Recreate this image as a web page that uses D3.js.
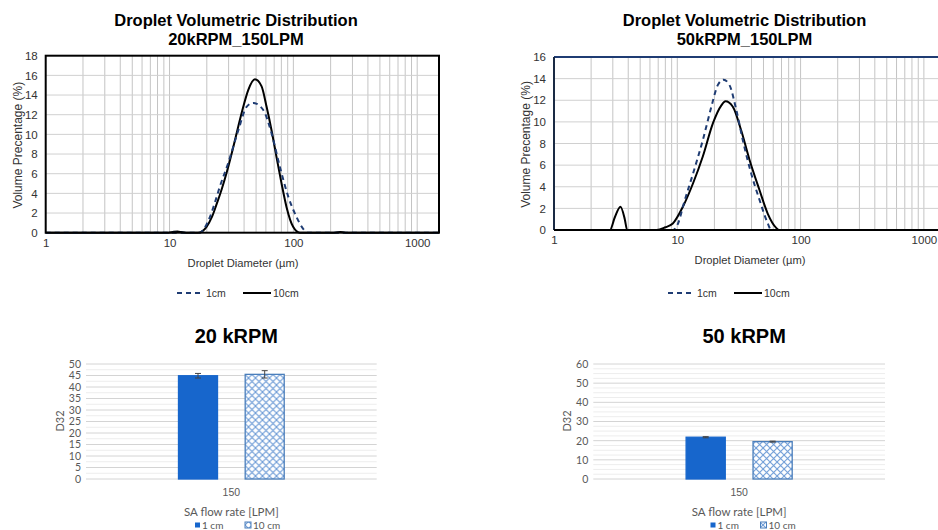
<!DOCTYPE html>
<html>
<head>
<meta charset="utf-8">
<script src="https://cdn.jsdelivr.net/npm/d3@7"></script>
<style>
  body { margin: 0; background: #fff; }
  text { font-family: "Liberation Sans", Arial, sans-serif; }
  .bar-txt { font-family: Lato, "Open Sans", sans-serif; fill: #595959; }
</style>
</head>
<body>
<svg id="chart" width="938" height="530"></svg>
<script>
// ---- data ----
const xTicks = [1, 10, 100, 1000];

// 20kRPM_150LPM : volume % against droplet diameter (µm)
const diam20k1cm = [1, 17.6, 19, 21.2, 23.3, 25.5, 29.8, 35.9, 41.9, 47.5, 57, 66.7, 77.8, 90.8, 106, 120, 132, 1500];
const vol20k1cm  = [0, 0, 0.4, 1.6, 3.1, 4.7, 7.1, 10.4, 12.8, 13.2, 12.5, 10.1, 6.7, 3.7, 1.6, 0.4, 0, 0];
const diam20k10cm = [1, 9.8, 10.8, 11.6, 12.5, 13.5, 17, 19.9, 22, 24, 26.5, 28.9, 32.7, 35.9, 39.4, 43.2, 48.9, 55.3, 60.8, 66.7, 73.1, 80.3, 88.1, 99.6, 112.8, 215, 240, 265, 1500];
const vol20k10cm  = [0, 0, 0.09, 0.12, 0.06, 0, 0, 0.6, 1.6, 2.9, 4.5, 6.1, 8.7, 10.8, 12.8, 14.5, 15.6, 14.9, 12.8, 10.4, 7.7, 5.0, 2.6, 0.6, 0, 0, 0.07, 0, 0];

// 50kRPM_150LPM
const diam50k1cm = [1, 9.2, 10.3, 11.1, 13.4, 16.1, 18.9, 21.3, 23.7, 26.5, 30.1, 34, 39.8, 46.4, 54.2, 57.7, 1500];
const vol50k1cm  = [0, 0, 0.8, 2.15, 5.2, 8.3, 11.4, 13.4, 13.9, 13.4, 11.1, 8.3, 5.2, 2.8, 0.6, 0, 0];
const diam50k10cm = [1, 2.84, 3.12, 3.46, 3.75, 3.92, 6.8, 8.0, 9.2, 11.1, 13.4, 16.1, 19.5, 22.7, 24.6, 28.2, 33, 38.5, 46.4, 54.2, 63.4, 66.9, 1500];
const vol50k10cm  = [0, 0, 1.2, 2.15, 1.0, 0, 0, 0.25, 0.6, 2.15, 4.3, 6.8, 9.9, 11.5, 11.9, 11.4, 9.2, 6.5, 3.7, 1.5, 0.2, 0, 0];

// D32 bar charts
const flowRates = ["150"];
const barSeries = ["1 cm", "10 cm"];
const d32At20k = [44.9, 45.5];
const err20k = [1.0, 1.6];
const d32At50k = [21.8, 19.5];
const err50k = [0.3, 0.25];

// ---- drawing ----
const svg = d3.select("#chart");
svg.append("rect").attr("width", 938).attr("height", 530).attr("fill", "#fff");

const defs = svg.append("defs");
const hatch = defs.append("pattern")
  .attr("id", "hatch")
  .attr("patternUnits", "userSpaceOnUse")
  .attr("width", 7).attr("height", 7);
hatch.append("rect").attr("width", 7).attr("height", 7).attr("fill", "#fff");
hatch.append("path")
  .attr("d", "M0,0 L7,7 M7,0 L0,7")
  .attr("stroke", "#6d9bd6").attr("stroke-width", 1.1);

const BLUE = "#1766cc";
const NAVY = "#1f3c73";

function zip(xs, ys) {
  return xs.map((d, i) => [d, ys[i]]);
}

function drawDistribution(o) {
  const x = d3.scaleLog().domain([1, 1500]).range([o.left, o.right]);
  const y = d3.scaleLinear().domain([0, o.yMax]).range([o.bottom, o.top]);
  const g = svg.append("g");

  // log grid
  const vLines = [];
  for (let k = 1; k <= 1000; k *= 10) {
    for (let m = 1; m < 10; m++) {
      const v = m * k;
      if (v > 1 && v < 1500) vLines.push(v);
    }
  }
  g.selectAll(".vgrid").data(vLines).join("line")
    .attr("x1", (d) => x(d)).attr("x2", (d) => x(d))
    .attr("y1", o.top).attr("y2", o.bottom)
    .attr("stroke", "#c4c4c4").attr("stroke-width", 1);
  g.selectAll(".hgrid").data(d3.range(2, o.yMax, 2)).join("line")
    .attr("x1", o.left).attr("x2", o.right)
    .attr("y1", (d) => y(d)).attr("y2", (d) => y(d))
    .attr("stroke", "#d0d0d0").attr("stroke-width", 1);

  const line = d3.line()
    .x((d) => x(d[0]))
    .y((d) => y(d[1]))
    .curve(d3.curveMonotoneX);

  g.append("path").datum(o.solid)
    .attr("d", line).attr("fill", "none")
    .attr("stroke", "#000").attr("stroke-width", 2);
  g.append("path").datum(o.dashed)
    .attr("d", line).attr("fill", "none")
    .attr("stroke", NAVY).attr("stroke-width", 2)
    .attr("stroke-dasharray", "5,4");

  // frame
  if (o.fullFrame) {
    g.append("rect")
      .attr("x", o.left).attr("y", o.top)
      .attr("width", o.right - o.left).attr("height", o.bottom - o.top)
      .attr("fill", "none").attr("stroke", "#000").attr("stroke-width", 2);
  } else {
    g.append("line").attr("x1", o.left).attr("x2", 938)
      .attr("y1", o.top).attr("y2", o.top)
      .attr("stroke", NAVY).attr("stroke-width", 2);
    g.append("line").attr("x1", o.left).attr("x2", o.left)
      .attr("y1", o.top).attr("y2", o.bottom)
      .attr("stroke", "#1a2a44").attr("stroke-width", 2);
    g.append("line").attr("x1", o.left).attr("x2", 938)
      .attr("y1", o.bottom).attr("y2", o.bottom)
      .attr("stroke", "#000").attr("stroke-width", 2);
  }

  // axes
  const yAxis = g.append("g")
    .attr("transform", `translate(${o.left},0)`)
    .call(d3.axisLeft(y).tickValues(d3.range(0, o.yMax + 1, 2)).tickSize(0).tickPadding(8));
  const xAxis = g.append("g")
    .attr("transform", `translate(0,${o.bottom})`)
    .call(d3.axisBottom(x).tickValues(xTicks).tickFormat(d3.format("d")).tickSize(0).tickPadding(6));
  [yAxis, xAxis].forEach((a) => {
    a.select(".domain").remove();
    a.selectAll("text")
      .attr("font-family", "Liberation Sans, Arial, sans-serif")
      .attr("font-size", 11.5).attr("fill", "#333");
  });

  // titles
  g.append("text").attr("x", o.titleX).attr("y", 26)
    .attr("text-anchor", "middle").attr("font-size", 16.5).attr("font-weight", "bold")
    .text("Droplet Volumetric Distribution");
  g.append("text").attr("x", o.titleX).attr("y", 45)
    .attr("text-anchor", "middle").attr("font-size", 16.5).attr("font-weight", "bold")
    .text(o.subtitle);

  g.append("text")
    .attr("transform", `translate(${o.yTitleX},${(o.top + o.bottom) / 2 + 1}) rotate(-90)`)
    .attr("text-anchor", "middle").attr("dy", "0.35em")
    .attr("font-size", 12).attr("fill", "#333")
    .text("Volume Precentage (%)");
  g.append("text").attr("x", o.xTitleX).attr("y", o.bottom + 30)
    .attr("text-anchor", "middle").attr("dy", "0.35em")
    .attr("font-size", 11.2).attr("fill", "#333")
    .text("Droplet Diameter (µm)");

  // legend
  const ly = 293;
  const lg = g.append("g");
  lg.append("line").attr("x1", o.legendX).attr("x2", o.legendX + 26)
    .attr("y1", ly).attr("y2", ly)
    .attr("stroke", NAVY).attr("stroke-width", 2).attr("stroke-dasharray", "5,4");
  lg.append("text").attr("x", o.legendX + 29).attr("y", ly).attr("dy", "0.35em")
    .attr("font-size", 10.5).attr("fill", "#333").text("1cm");
  lg.append("line").attr("x1", o.legendX + 66).attr("x2", o.legendX + 94)
    .attr("y1", ly).attr("y2", ly)
    .attr("stroke", "#000").attr("stroke-width", 2);
  lg.append("text").attr("x", o.legendX + 96).attr("y", ly).attr("dy", "0.35em")
    .attr("font-size", 10.5).attr("fill", "#333").text("10cm");
}

drawDistribution({
  left: 45.7, right: 439, top: 55.7, bottom: 232.7, yMax: 18,
  fullFrame: true, titleX: 236, subtitle: "20kRPM_150LPM",
  yTitleX: 18, xTitleX: 243, legendX: 177,
  solid: zip(diam20k10cm, vol20k10cm), dashed: zip(diam20k1cm, vol20k1cm)
});
drawDistribution({
  left: 554, right: 945.6, top: 57, bottom: 230, yMax: 16,
  fullFrame: false, titleX: 744.5, subtitle: "50kRPM_150LPM",
  yTitleX: 526, xTitleX: 750, legendX: 668,
  solid: zip(diam50k10cm, vol50k10cm), dashed: zip(diam50k1cm, vol50k1cm)
});

function drawBars(o) {
  const y = d3.scaleLinear().domain([0, o.yMax]).range([479, 364]);
  const x0 = d3.scaleBand().domain(flowRates).range([o.left, o.right]).paddingOuter(0.875);
  const x1 = d3.scaleBand().domain(barSeries).range([0, x0.bandwidth()]).paddingInner(0.415);
  const g = svg.append("g");

  const minor = d3.range(0, o.yMax + 0.01, 2.5).filter((v) => v % o.step !== 0);
  g.selectAll(".minor").data(minor).join("line")
    .attr("x1", o.left).attr("x2", o.right)
    .attr("y1", (d) => y(d)).attr("y2", (d) => y(d))
    .attr("stroke", "#ededed").attr("stroke-width", 1);
  g.selectAll(".major").data(d3.range(0, o.yMax + 0.01, o.step)).join("line")
    .attr("x1", o.left).attr("x2", o.right)
    .attr("y1", (d) => y(d)).attr("y2", (d) => y(d))
    .attr("stroke", "#d4d4d4").attr("stroke-width", 1);

  const rows = barSeries.map((s, i) => ({ s, v: o.values[i], e: o.errors[i] }));
  const grp = g.append("g").attr("transform", `translate(${x0("150")},0)`);
  grp.selectAll(".bar").data(rows).join("rect")
    .attr("x", (d) => x1(d.s)).attr("width", x1.bandwidth())
    .attr("y", (d) => y(d.v)).attr("height", (d) => y(0) - y(d.v))
    .attr("fill", (d, i) => (i === 0 ? BLUE : "url(#hatch)"))
    .attr("stroke", (d, i) => (i === 0 ? BLUE : "#4a7ebb"))
    .attr("stroke-width", 1.3);
  const eb = grp.selectAll(".err").data(rows).join("g")
    .attr("transform", (d) => `translate(${x1(d.s) + x1.bandwidth() / 2},0)`);
  eb.append("line").attr("y1", (d) => y(d.v + d.e)).attr("y2", (d) => y(d.v - d.e))
    .attr("stroke", "#444").attr("stroke-width", 1);
  eb.append("line").attr("x1", -3).attr("x2", 3)
    .attr("y1", (d) => y(d.v + d.e)).attr("y2", (d) => y(d.v + d.e))
    .attr("stroke", "#444").attr("stroke-width", 1);
  eb.append("line").attr("x1", -3).attr("x2", 3)
    .attr("y1", (d) => y(d.v - d.e)).attr("y2", (d) => y(d.v - d.e))
    .attr("stroke", "#444").attr("stroke-width", 1);

  const yAxis = g.append("g").attr("transform", `translate(${o.left},0)`)
    .call(d3.axisLeft(y).tickValues(d3.range(0, o.yMax + 0.01, o.step)).tickSize(0).tickPadding(5));
  yAxis.select(".domain").remove();
  yAxis.selectAll("text").attr("class", "bar-txt")
    .attr("font-family", "Lato, sans-serif").attr("font-size", 10.5).attr("fill", "#7a7a7a");

  const xAxis = g.append("g").attr("transform", "translate(0,479)")
    .call(d3.axisBottom(x0).tickSize(0).tickPadding(10));
  xAxis.select(".domain").remove();
  xAxis.selectAll("text")
    .attr("font-family", "Lato, sans-serif").attr("font-size", 10.5).attr("fill", "#595959");

  const cx = (o.left + o.right) / 2;
  g.append("text").attr("x", cx + o.titleShift).attr("y", 343)
    .attr("text-anchor", "middle").attr("font-size", 20).attr("font-weight", "bold")
    .text(o.title);
  g.append("text").attr("class", "bar-txt")
    .attr("transform", `translate(${o.left - 26},${421}) rotate(-90)`)
    .attr("text-anchor", "middle").attr("dy", "0.35em").attr("font-size", 11)
    .text("D32");
  g.append("text").attr("class", "bar-txt")
    .attr("x", cx).attr("y", 512).attr("dy", "0.35em")
    .attr("text-anchor", "middle").attr("font-size", 11.5)
    .text("SA flow rate [LPM]");

  // legend
  const lx = o.legendX;
  g.append("rect").attr("x", lx).attr("y", 522.5).attr("width", 5).attr("height", 5).attr("fill", BLUE);
  g.append("text").attr("class", "bar-txt").attr("x", lx + 7).attr("y", 525).attr("dy", "0.35em")
    .attr("font-size", 10).text(barSeries[0]);
  g.append("rect").attr("x", lx + 50).attr("y", 522).attr("width", 6).attr("height", 6)
    .attr("fill", "url(#hatch)").attr("stroke", "#4a7ebb").attr("stroke-width", 1);
  g.append("text").attr("class", "bar-txt").attr("x", lx + 58).attr("y", 525).attr("dy", "0.35em")
    .attr("font-size", 10).text(barSeries[1]);
}

drawBars({
  left: 86, right: 376.7, yMax: 50, step: 5, title: "20 kRPM", titleShift: 5,
  values: d32At20k, errors: err20k, legendX: 195
});
drawBars({
  left: 593.3, right: 885, yMax: 60, step: 10, title: "50 kRPM", titleShift: 5,
  values: d32At50k, errors: err50k, legendX: 710.5
});
</script>
</body>
</html>
